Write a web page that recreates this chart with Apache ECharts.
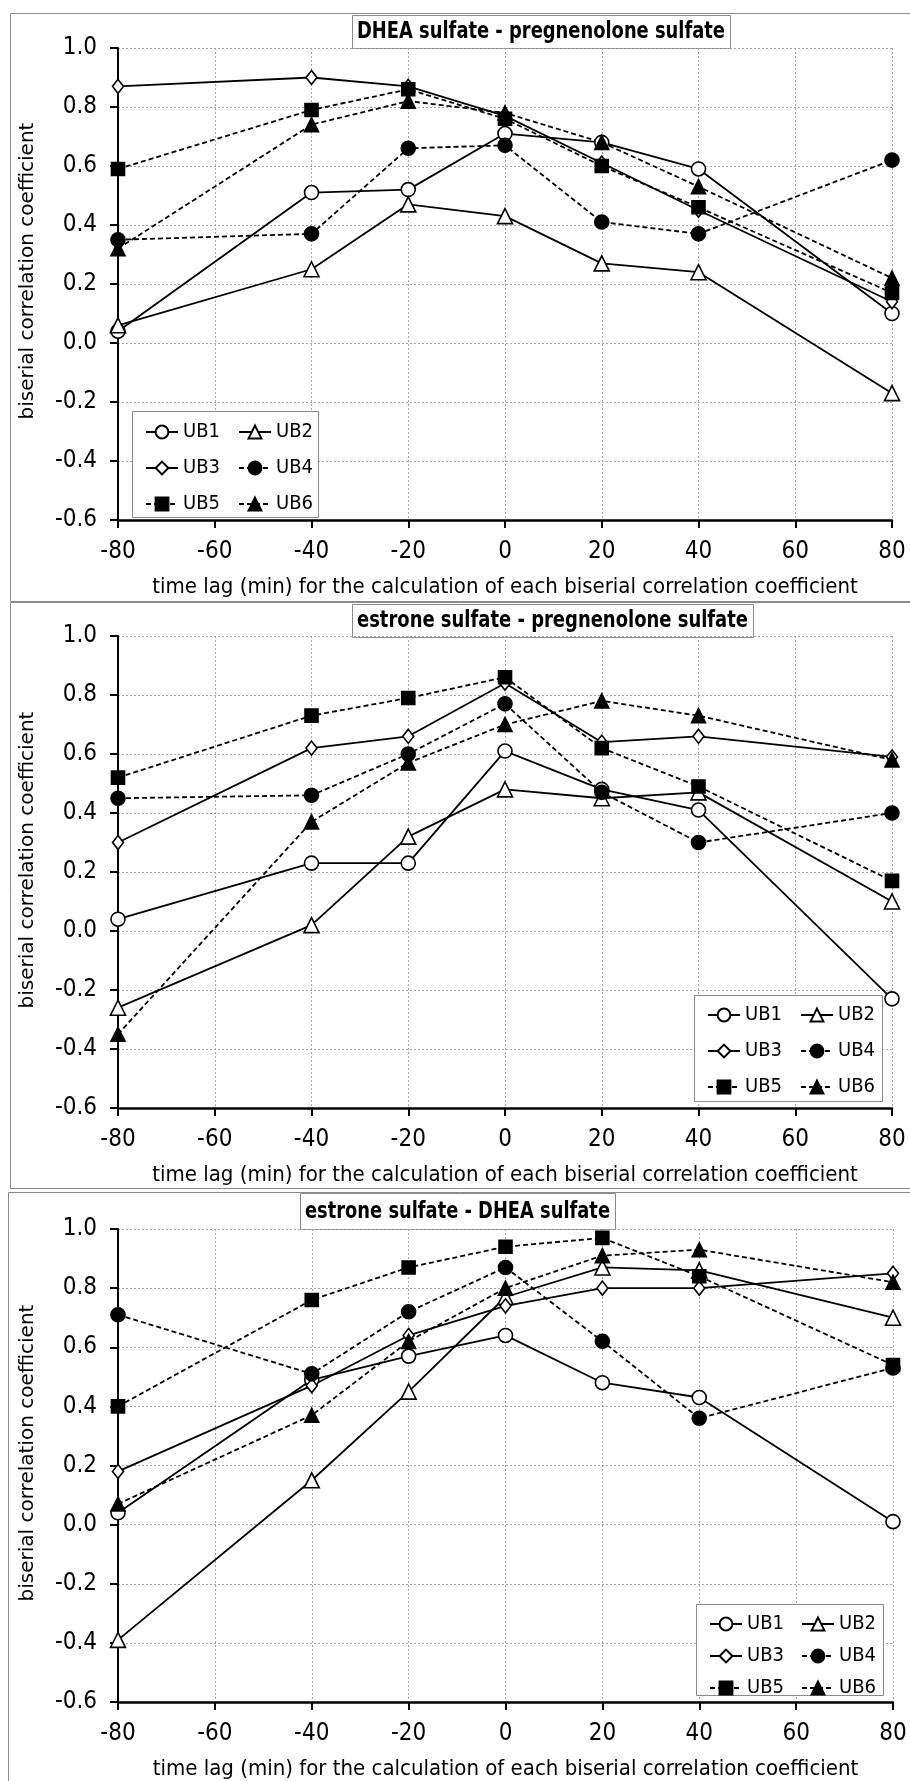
<!DOCTYPE html>
<html>
<head>
<meta charset="utf-8">
<script src="https://cdn.jsdelivr.net/npm/echarts@6/dist/echarts.min.js"></script>
<style>
  html, body { margin: 0; padding: 0; background: #fff; }
  #chart { width: 910px; height: 1781px; }
</style>
</head>
<body>
<div id="chart"></div>
<script>
// ---- data ----
const lags = [-80, -40, -20, 0, 20, 40, 80];
const seriesNames = ['UB1', 'UB2', 'UB3', 'UB4', 'UB5', 'UB6'];
const panelTitles = [
  'DHEA sulfate - pregnenolone sulfate',
  'estrone sulfate - pregnenolone sulfate',
  'estrone sulfate - DHEA sulfate'
];
const xAxisTitle = 'time lag (min) for the calculation of each biserial correlation coefficient';
const yAxisTitle = 'biserial correlation coefficient';
const xTicks = [-80, -60, -40, -20, 0, 20, 40, 60, 80];
const yTicks = [-0.6, -0.4, -0.2, 0.0, 0.2, 0.4, 0.6, 0.8, 1.0];

// DHEA sulfate - pregnenolone sulfate
const dheaPregUB1 = [0.04, 0.51, 0.52, 0.71, 0.68, 0.59, 0.10];
const dheaPregUB2 = [0.06, 0.25, 0.47, 0.43, 0.27, 0.24, -0.17];
const dheaPregUB3 = [0.87, 0.90, 0.87, 0.77, 0.61, 0.45, 0.14];
const dheaPregUB4 = [0.35, 0.37, 0.66, 0.67, 0.41, 0.37, 0.62];
const dheaPregUB5 = [0.59, 0.79, 0.86, 0.76, 0.60, 0.46, 0.17];
const dheaPregUB6 = [0.32, 0.74, 0.82, 0.78, 0.68, 0.53, 0.22];

// estrone sulfate - pregnenolone sulfate
const estPregUB1 = [0.04, 0.23, 0.23, 0.61, 0.48, 0.41, -0.23];
const estPregUB2 = [-0.26, 0.02, 0.32, 0.48, 0.45, 0.47, 0.10];
const estPregUB3 = [0.30, 0.62, 0.66, 0.84, 0.64, 0.66, 0.59];
const estPregUB4 = [0.45, 0.46, 0.60, 0.77, 0.47, 0.30, 0.40];
const estPregUB5 = [0.52, 0.73, 0.79, 0.86, 0.62, 0.49, 0.17];
const estPregUB6 = [-0.35, 0.37, 0.57, 0.70, 0.78, 0.73, 0.58];

// estrone sulfate - DHEA sulfate
const estDheaUB1 = [0.04, 0.49, 0.57, 0.64, 0.48, 0.43, 0.01];
const estDheaUB2 = [-0.39, 0.15, 0.45, 0.77, 0.87, 0.86, 0.70];
const estDheaUB3 = [0.18, 0.47, 0.64, 0.74, 0.80, 0.80, 0.85];
const estDheaUB4 = [0.71, 0.51, 0.72, 0.87, 0.62, 0.36, 0.53];
const estDheaUB5 = [0.40, 0.76, 0.87, 0.94, 0.97, 0.84, 0.54];
const estDheaUB6 = [0.07, 0.37, 0.62, 0.80, 0.91, 0.93, 0.82];

const panelData = [
  [dheaPregUB1, dheaPregUB2, dheaPregUB3, dheaPregUB4, dheaPregUB5, dheaPregUB6],
  [estPregUB1, estPregUB2, estPregUB3, estPregUB4, estPregUB5, estPregUB6],
  [estDheaUB1, estDheaUB2, estDheaUB3, estDheaUB4, estDheaUB5, estDheaUB6]
];

// ---- styling ----
const narrow = "'Liberation Sans Narrow', 'DejaVu Sans Condensed', Roboto, sans-serif";
const wide = "'DejaVu Sans', Verdana, sans-serif";

const markerStyles = [
  { symbol: 'circle',   size: 14,       fill: '#fff', dashed: false },
  { symbol: 'triangle', size: 15,       fill: '#fff', dashed: false },
  { symbol: 'diamond',  size: [11, 14], fill: '#fff', dashed: false },
  { symbol: 'circle',   size: 14,       fill: '#000', dashed: true },
  { symbol: 'rect',     size: 13,       fill: '#000', dashed: true },
  { symbol: 'triangle', size: 14,       fill: '#000', dashed: true }
];

// panel geometry
const panels = [
  { frame: [10, 13, 920, 588],  grid: [118, 48, 774, 472],  titleBox: [352, 15, 378, 33],
    yTitleY: 271, legendBox: [132, 411, 186, 106], legendCols: [145, 238], legendTop: 422, legendGap: 16 },
  { frame: [10, 602, 920, 586], grid: [118, 636, 774, 472], titleBox: [352, 604, 401, 33],
    yTitleY: 860, legendBox: [694, 995, 188, 106], legendCols: [707, 800], legendTop: 1005, legendGap: 16 },
  { frame: [8, 1192, 922, 600], grid: [118, 1229, 775, 474], titleBox: [300, 1193, 315, 36],
    yTitleY: 1453, legendBox: [696, 1604, 187, 91], legendCols: [709, 801], legendTop: 1614, legendGap: 12 }
];

// condensed bold title: draw at a taller size and squeeze it to fit its box
const titleFont = `bold 23px ${narrow}`;
const measureCtx = document.createElement('canvas').getContext('2d');
function fitScale(text, font, target) {
  measureCtx.font = font;
  const w = measureCtx.measureText(text).width;
  return w > 0 ? Math.min(1, target / w) : 1;
}

const chart = echarts.init(document.getElementById('chart'), null, { renderer: 'canvas' });

const grids = [], xAxes = [], yAxes = [], series = [], legends = [], graphics = [];

panels.forEach((p, pi) => {
  graphics.push({
    type: 'rect', z: 0, silent: true,
    shape: { x: p.frame[0] + 0.5, y: p.frame[1] + 0.5, width: p.frame[2], height: p.frame[3] },
    style: { fill: '#fff', stroke: '#8a8a8a', lineWidth: 1 }
  });

  grids.push({ left: p.grid[0], top: p.grid[1], width: p.grid[2], height: p.grid[3], containLabel: false });

  xAxes.push({
    gridIndex: pi, type: 'value',
    min: xTicks[0], max: xTicks[xTicks.length - 1], interval: 20,
    name: xAxisTitle, nameLocation: 'middle', nameGap: 56,
    nameTextStyle: { fontFamily: narrow, fontSize: 22, color: '#000' },
    axisLine: { onZero: false, lineStyle: { color: '#000', width: 2.5 } },
    axisTick: { show: true, length: 8, lineStyle: { color: '#000', width: 2 } },
    axisLabel: { margin: 20, fontFamily: narrow, fontSize: 24, color: '#000' },
    splitLine: { show: true, lineStyle: { color: '#a6a6a6', width: 1, type: [2, 2] } }
  });

  yAxes.push({
    gridIndex: pi, type: 'value',
    min: yTicks[0], max: yTicks[yTicks.length - 1], interval: 0.2,
    axisLine: { onZero: false, lineStyle: { color: '#000', width: 2 } },
    axisTick: { show: true, length: 8, lineStyle: { color: '#000', width: 2 } },
    axisLabel: {
      margin: 21, fontFamily: narrow, fontSize: 24, color: '#000',
      formatter: v => (Math.abs(v) < 1e-9 ? 0 : v).toFixed(1)
    },
    splitLine: { show: true, lineStyle: { color: '#a6a6a6', width: 1, type: [2, 2] } }
  });

  panelData[pi].forEach((vals, si) => {
    const m = markerStyles[si];
    series.push({
      name: seriesNames[si], type: 'line',
      xAxisIndex: pi, yAxisIndex: pi,
      data: lags.map((x, i) => [x, vals[i]]),
      symbol: m.symbol, symbolSize: m.size, showAllSymbol: true,
      itemStyle: { color: m.fill, borderColor: '#000', borderWidth: 1.6 },
      lineStyle: { color: '#000', width: 1.8, type: m.dashed ? [5, 3] : 'solid' },
      emphasis: { disabled: true },
      animation: false, z: 3
    });
  });

  // legend frame
  graphics.push({
    type: 'rect', z: 5, silent: true,
    shape: { x: p.legendBox[0] + 0.5, y: p.legendBox[1] + 0.5, width: p.legendBox[2], height: p.legendBox[3] },
    style: { fill: '#fff', stroke: '#8a8a8a', lineWidth: 1 }
  });
  // two legend columns
  [[0, 2, 4], [1, 3, 5]].forEach((idx, ci) => {
    legends.push({
      orient: 'vertical', left: p.legendCols[ci], top: p.legendTop, padding: 0,
      itemWidth: 32, itemHeight: 16, itemGap: p.legendGap, z: 10,
      selectedMode: false,
      data: idx.map(i => seriesNames[i]),
      textStyle: { fontFamily: narrow, fontSize: 20, color: '#000', padding: [0, 0, 0, 0] }
    });
  });

  // panel title box
  const tb = p.titleBox;
  const sx = fitScale(panelTitles[pi], titleFont, tb[2] - 10);
  graphics.push({
    type: 'group', z: 20, silent: true,
    children: [
      { type: 'rect', shape: { x: tb[0] + 0.5, y: tb[1] + 0.5, width: tb[2], height: tb[3] },
        style: { fill: '#fff', stroke: '#8a8a8a', lineWidth: 1 } },
      { type: 'text', x: tb[0] + tb[2] / 2, y: tb[1] + tb[3] / 2 + 1, scaleX: sx,
        style: { text: panelTitles[pi], font: titleFont, fill: '#000', align: 'center', verticalAlign: 'middle' } }
    ]
  });

  // rotated y-axis title
  graphics.push({
    type: 'text', z: 20, silent: true,
    x: 28, y: p.yTitleY, rotation: Math.PI / 2,
    style: { text: yAxisTitle, font: `20px ${wide}`, fill: '#000', align: 'center', verticalAlign: 'middle' }
  });
});

chart.setOption({
  animation: false,
  backgroundColor: '#fff',
  grid: grids,
  xAxis: xAxes,
  yAxis: yAxes,
  legend: legends,
  graphic: graphics,
  series: series
});
</script>
</body>
</html>
